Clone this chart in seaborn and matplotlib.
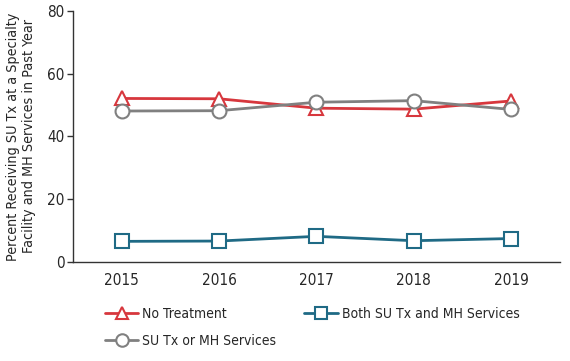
import pandas as pd
import matplotlib.pyplot as plt
import seaborn as sb

years = [2015, 2016, 2017, 2018, 2019]
no_treatment = [52.1, 52.0, 49.0, 48.7, 51.3]
su_or_mh = [48.1, 48.2, 50.9, 51.4, 48.6]
both_su_mh = [6.6, 6.7, 8.2, 6.8, 7.5]

labels = ['No Treatment', 'SU Tx or MH Services', 'Both SU Tx and MH Services']
colours = ['#D7373D', '#808080', '#1F6A85']
markers = ['^', 'o', 's']

sb.set_style('white')
plt.rcParams['font.family'] = ['DejaVu Sans']
plt.rcParams['font.stretch'] = 'condensed'

fig = plt.figure(figsize=(5.7, 3.61), dpi=100)
ax = fig.add_axes([0.128, 0.274, 0.854, 0.696])

for vals, lab, col, mk in zip([no_treatment, su_or_mh, both_su_mh], labels, colours, markers):
    df = pd.DataFrame({'year': years, 'value': vals})
    sb.lineplot(data=df, x='year', y='value', ax=ax, color=col, linewidth=2,
                marker=mk, markersize=10, markerfacecolor='white',
                markeredgecolor=col, markeredgewidth=1.5, label=lab)

ax.set_xlim(2014.5, 2019.5)
ax.set_ylim(0, 80)
ax.set_xticks(years)
ax.set_yticks([0, 20, 40, 60, 80])
ax.tick_params(axis='x', length=0, labelsize=11, pad=8)
ax.tick_params(axis='y', length=4, width=1, color='#333333', labelsize=11, left=True, pad=2)
for s in ['top', 'right']:
    ax.spines[s].set_visible(False)
for s in ['left', 'bottom']:
    ax.spines[s].set_color('#333333')
    ax.spines[s].set_linewidth(1)
ax.set_xlabel('')
ax.set_ylabel('Percent Receiving SU Tx at a Specialty\nFacility and MH Services in Past Year',
              fontsize=10.3, linespacing=1.2, labelpad=8)

ax.legend(loc='upper left', bbox_to_anchor=(0.04, -0.13), ncol=2, frameon=False,
          fontsize=10, handlelength=2.4, columnspacing=2.0, labelspacing=0.9,
          handletextpad=0.3, markerscale=0.9)

plt.savefig('out.png', dpi=100)
